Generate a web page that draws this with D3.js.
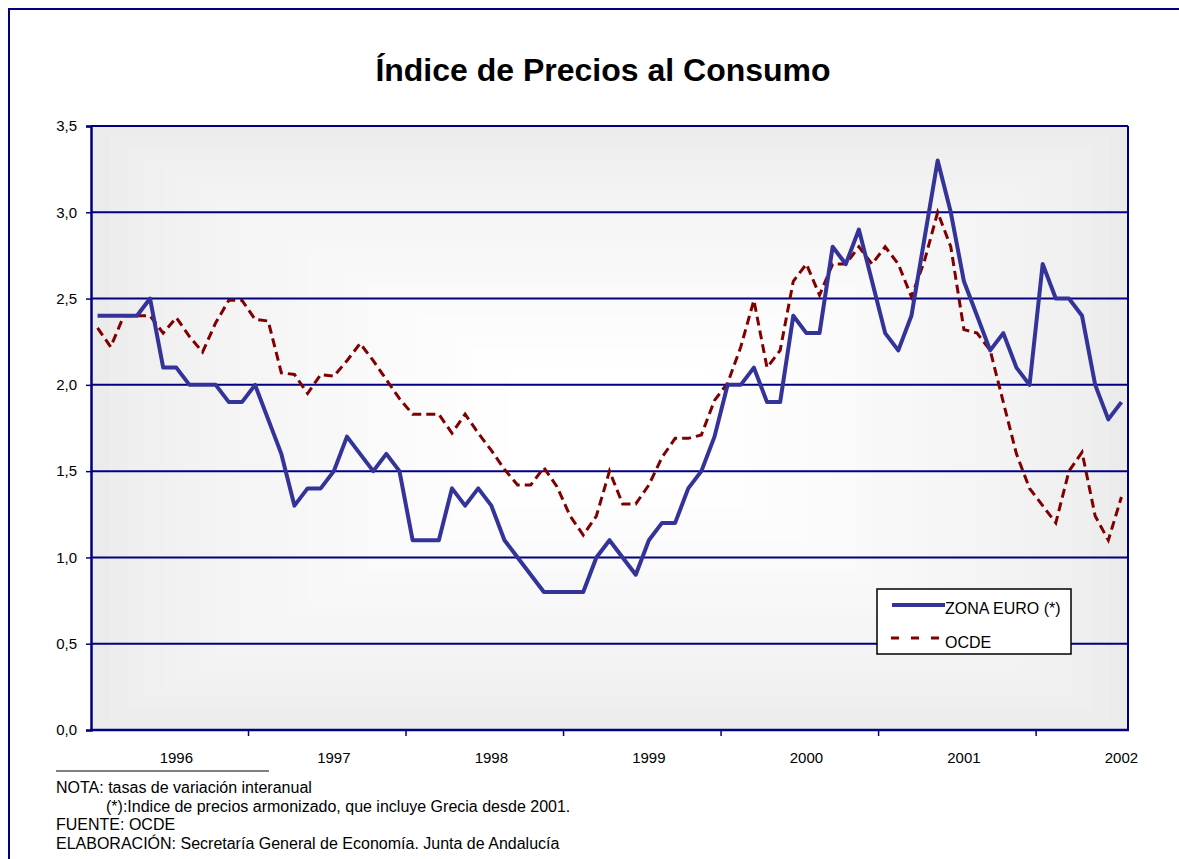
<!DOCTYPE html>
<html>
<head>
<meta charset="utf-8">
<script src="https://cdn.jsdelivr.net/npm/d3@7"></script>
<style>
  body { margin: 0; background: #fff; }
  svg { display: block; font-family: "Liberation Sans", Arial, sans-serif; }
</style>
</head>
<body>
<div id="chart"></div>
<script>
const width = 1179
const height = 859

// monthly categories, Jan 1996 - Jul 2002
const months = d3.timeMonths(new Date(1996, 0, 1), new Date(2002, 7, 1))
const yearLabels = ["1996", "1997", "1998", "1999", "2000", "2001", "2002"]
const yTicks = [0, 0.5, 1, 1.5, 2, 2.5, 3, 3.5]

// ZONA EURO (*) - IPC armonizado, tasa interanual
const zonaEuro = [
  2.4, 2.4, 2.4, 2.4, 2.5, 2.1, 2.1, 2.0, 2.0, 2.0, 1.9, 1.9,
  2.0, 1.8, 1.6, 1.3, 1.4, 1.4, 1.5, 1.7, 1.6, 1.5, 1.6, 1.5,
  1.1, 1.1, 1.1, 1.4, 1.3, 1.4, 1.3, 1.1, 1.0, 0.9, 0.8, 0.8,
  0.8, 0.8, 1.0, 1.1, 1.0, 0.9, 1.1, 1.2, 1.2, 1.4, 1.5, 1.7,
  2.0, 2.0, 2.1, 1.9, 1.9, 2.4, 2.3, 2.3, 2.8, 2.7, 2.9, 2.6,
  2.3, 2.2, 2.4, 2.85, 3.3, 3.0, 2.6, 2.4, 2.2, 2.3, 2.1, 2.0,
  2.7, 2.5, 2.5, 2.4, 2.0, 1.8, 1.9
]

// OCDE
const ocde = [
  2.33, 2.22, 2.40, 2.40, 2.40, 2.30, 2.39, 2.28, 2.19, 2.36, 2.49, 2.49,
  2.38, 2.37, 2.07, 2.06, 1.95, 2.06, 2.05, 2.14, 2.24, 2.14, 2.03, 1.92,
  1.83, 1.83, 1.83, 1.72, 1.83, 1.72, 1.62, 1.51, 1.42, 1.42, 1.52, 1.41,
  1.24, 1.13, 1.24, 1.50, 1.31, 1.31, 1.42, 1.58, 1.69, 1.69, 1.71, 1.91,
  2.01, 2.22, 2.49, 2.10, 2.20, 2.60, 2.70, 2.52, 2.70, 2.70, 2.80, 2.70,
  2.80, 2.70, 2.51, 2.72, 3.00, 2.80, 2.32, 2.30, 2.20, 1.90, 1.60, 1.40,
  1.30, 1.20, 1.50, 1.61, 1.24, 1.10, 1.35
]

const navy = "#000080"
const plot = { left: 91, right: 1128, top: 126, bottom: 730 }

const svg = d3.select("#chart")
  .append("svg")
  .attr("width", width)
  .attr("height", height)

// outer frame
svg.append("rect")
  .attr("x", 9).attr("y", 9)
  .attr("width", width + 20).attr("height", height + 20)
  .attr("fill", "#fff")
  .attr("stroke", navy)
  .attr("stroke-width", 2)

// scales
const x = d3.scaleBand()
  .domain(months)
  .range([plot.left, plot.right])
  .padding(0)

const y = d3.scaleLinear()
  .domain([0, 3.5])
  .range([plot.bottom, plot.top])

const cx = (i) => x(months[i]) + x.bandwidth() / 2

// plot background: rectangular gradient from the centre (grey edges, white middle)
const bg = svg.append("g")
const pw = plot.right - plot.left
const ph = plot.bottom - plot.top
const steps = 24
const shade = d3.interpolateRgb("#ebebeb", "#ffffff")
for (let k = 0; k < steps; k++) {
  const f = k / steps * 0.42
  bg.append("rect")
    .attr("x", plot.left + pw * f)
    .attr("y", plot.top + ph * f)
    .attr("width", pw * (1 - 2 * f))
    .attr("height", ph * (1 - 2 * f))
    .attr("fill", shade(Math.pow(k / (steps - 1), 0.7)))
}

// horizontal gridlines
svg.append("g")
  .selectAll("line")
  .data(yTicks.filter(d => d > 0))
  .enter()
  .append("line")
  .attr("x1", plot.left).attr("x2", plot.right)
  .attr("y1", d => y(d)).attr("y2", d => y(d))
  .attr("stroke", navy)
  .attr("stroke-width", 2)

// right border
svg.append("line")
  .attr("x1", plot.right).attr("x2", plot.right)
  .attr("y1", plot.top).attr("y2", plot.bottom)
  .attr("stroke", navy)
  .attr("stroke-width", 2)

// y axis
const yAxis = svg.append("g")
  .attr("transform", `translate(${plot.left},0)`)
  .call(d3.axisLeft(y)
    .tickValues(yTicks)
    .tickSize(5)
    .tickPadding(9)
    .tickFormat(d => d3.format(".1f")(d).replace(".", ",")))
yAxis.select(".domain").attr("stroke", navy).attr("stroke-width", 2.5)
yAxis.selectAll(".tick line").attr("stroke", navy).attr("stroke-width", 1.5)
yAxis.selectAll(".tick text")
  .attr("fill", "#000")
  .attr("font-size", 15)
  .attr("font-family", "Liberation Sans, Arial, sans-serif")

// x axis: ticks between years, labels centred on July
const xAxis = svg.append("g")
xAxis.append("line")
  .attr("x1", plot.left - 1).attr("x2", plot.right + 1)
  .attr("y1", plot.bottom).attr("y2", plot.bottom)
  .attr("stroke", navy)
  .attr("stroke-width", 2.5)

const yearStarts = months.filter((d, i) => i > 0 && d.getMonth() === 0)
xAxis.selectAll(".ytick")
  .data(yearStarts)
  .enter()
  .append("line")
  .attr("class", "ytick")
  .attr("x1", d => x(d)).attr("x2", d => x(d))
  .attr("y1", plot.bottom).attr("y2", plot.bottom + 6)
  .attr("stroke", navy)
  .attr("stroke-width", 1.5)

xAxis.selectAll(".ylabel")
  .data(yearLabels)
  .enter()
  .append("text")
  .attr("class", "ylabel")
  .attr("x", (d, i) => cx(i * 12 + 6))
  .attr("y", 763)
  .attr("text-anchor", "middle")
  .attr("font-size", 15)
  .text(d => d)

// series
const line = d3.line()
  .x((d, i) => cx(i))
  .y(d => y(d))

svg.append("path")
  .datum(ocde)
  .attr("d", line)
  .attr("fill", "none")
  .attr("stroke", "#800000")
  .attr("stroke-width", 3)
  .attr("stroke-dasharray", "9,5")

svg.append("path")
  .datum(zonaEuro)
  .attr("d", line)
  .attr("fill", "none")
  .attr("stroke", "#333399")
  .attr("stroke-width", 4)
  .attr("stroke-linejoin", "round")

// title
svg.append("text")
  .attr("x", 603)
  .attr("y", 81)
  .attr("text-anchor", "middle")
  .attr("font-size", 32)
  .attr("font-weight", "bold")
  .text("Índice de Precios al Consumo")

// legend
const legend = svg.append("g")
legend.append("rect")
  .attr("x", 877).attr("y", 589)
  .attr("width", 194).attr("height", 65)
  .attr("fill", "#fff")
  .attr("stroke", "#000")
  .attr("stroke-width", 1.5)
legend.append("line")
  .attr("x1", 892).attr("x2", 945)
  .attr("y1", 605).attr("y2", 605)
  .attr("stroke", "#333399").attr("stroke-width", 4)
legend.append("text")
  .attr("x", 945).attr("y", 614)
  .attr("font-size", 16)
  .text("ZONA EURO (*)")
legend.append("line")
  .attr("x1", 891).attr("x2", 941)
  .attr("y1", 638).attr("y2", 638)
  .attr("stroke", "#800000").attr("stroke-width", 3)
  .attr("stroke-dasharray", "8,12")
legend.append("text")
  .attr("x", 945).attr("y", 648)
  .attr("font-size", 16)
  .text("OCDE")

// footnotes
svg.append("line")
  .attr("x1", 56).attr("x2", 269)
  .attr("y1", 771).attr("y2", 771)
  .attr("stroke", "#000").attr("stroke-width", 1)

const notes = [
  { x: 56, y: 793, t: "NOTA: tasas de variación interanual" },
  { x: 106, y: 812, t: "(*):Indice de precios armonizado, que incluye Grecia desde 2001." },
  { x: 56, y: 830, t: "FUENTE: OCDE" },
  { x: 56, y: 849, t: "ELABORACIÓN: Secretaría General de Economía. Junta de Andalucía" }
]
svg.append("g")
  .selectAll("text")
  .data(notes)
  .enter()
  .append("text")
  .attr("x", d => d.x)
  .attr("y", d => d.y)
  .attr("font-size", 16)
  .text(d => d.t)
</script>
</body>
</html>
